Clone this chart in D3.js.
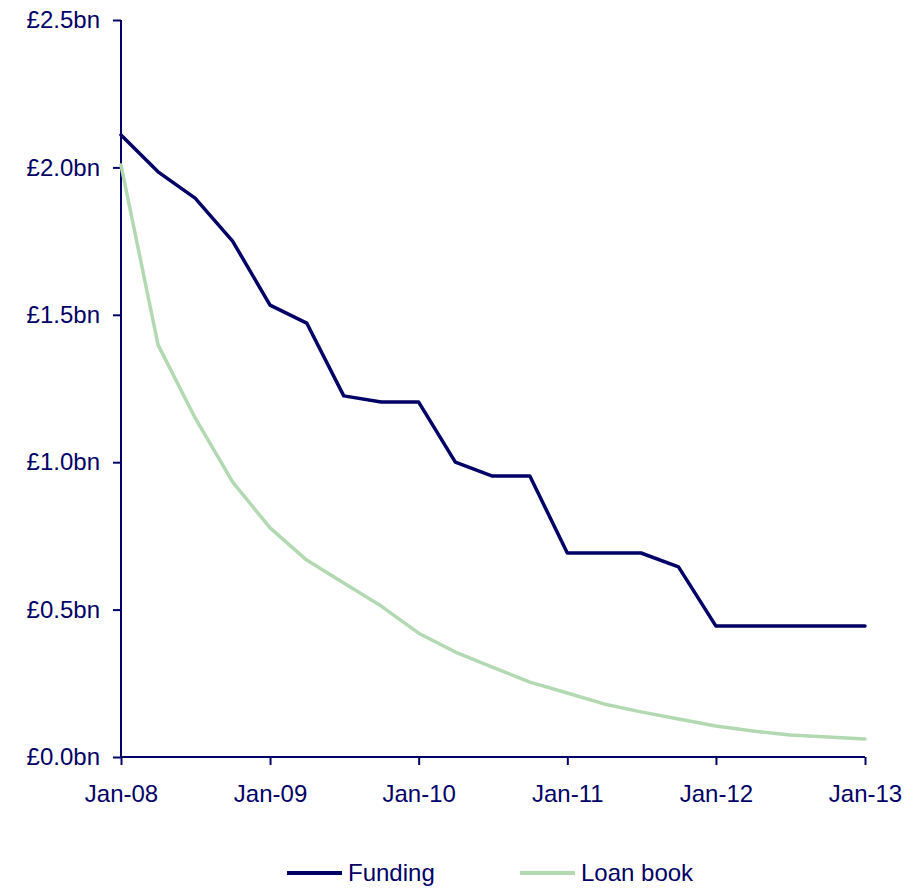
<!DOCTYPE html>
<html>
<head>
<meta charset="utf-8">
<script src="https://cdn.jsdelivr.net/npm/d3@7"></script>
<style>
  html, body { margin: 0; padding: 0; background: #fff; }
  svg { display: block; }
  text { font-family: "Liberation Sans", Arial, sans-serif; fill: #000066; }
</style>
</head>
<body>
<svg id="chart" width="921" height="888"></svg>
<script>
// Quarterly observations, Jan-08 to Jan-13 (£bn)
const quarters = d3.range(0, 21).map(i => new Date(2008, i * 3, 1));
const funding = [2.11, 1.985, 1.896, 1.75, 1.533, 1.472, 1.225, 1.204, 1.204, 1.0,
                 0.953, 0.953, 0.692, 0.692, 0.692, 0.645, 0.444, 0.444, 0.444, 0.444, 0.444];
const loanBook = [2.008, 1.398, 1.15, 0.933, 0.777, 0.668, 0.59, 0.512, 0.42, 0.356,
                  0.305, 0.254, 0.217, 0.18, 0.153, 0.129, 0.105, 0.088, 0.075, 0.068, 0.061];
const yTicks = [0, 0.5, 1.0, 1.5, 2.0, 2.5];
const xTickDates = d3.range(2008, 2014).map(y => new Date(y, 0, 1));
const seriesNames = ["Funding", "Loan book"];

const navy = "#000066";
const green = "#b3d9b3";
const fontSize = "24px";

const svg = d3.select("#chart");
const margin = { left: 121, right: 56, top: 20, bottom: 131 };
const W = 921, H = 888;

const x = d3.scaleTime()
  .domain([quarters[0], quarters[quarters.length - 1]])
  .range([margin.left, W - margin.right]);
const y = d3.scaleLinear()
  .domain([0, 2.5])
  .range([H - margin.bottom, margin.top]);

// Y axis
const yAxis = svg.append("g")
  .attr("transform", `translate(${margin.left},0)`)
  .call(d3.axisLeft(y).tickValues(yTicks).tickSize(8).tickPadding(13)
    .tickFormat(d => "£" + d.toFixed(1) + "bn"));
yAxis.select(".domain").attr("stroke", navy).attr("stroke-width", 2).attr("d", `M0,${y(2.5)}V${y(0)}`);
yAxis.selectAll(".tick line").attr("stroke", navy).attr("stroke-width", 2);
yAxis.selectAll(".tick text").attr("fill", navy).style("font-size", fontSize);

// X axis
const xAxis = svg.append("g")
  .attr("transform", `translate(0,${y(0)})`)
  .call(d3.axisBottom(x).tickValues(xTickDates).tickSize(8).tickPadding(20)
    .tickFormat(d3.timeFormat("%b-%y")));
xAxis.select(".domain").attr("stroke", navy).attr("stroke-width", 2).attr("d", `M${x.range()[0]},0H${x.range()[1]}`);
xAxis.selectAll(".tick line").attr("stroke", navy).attr("stroke-width", 2);
xAxis.selectAll(".tick text").attr("fill", navy).style("font-size", fontSize);

// Series lines
const line = d3.line().x((d, i) => x(quarters[i])).y(d => y(d));

svg.append("path")
  .datum(loanBook)
  .attr("fill", "none")
  .attr("stroke", green)
  .attr("stroke-width", 3.5)
  .attr("stroke-linejoin", "round")
  .attr("stroke-linecap", "round")
  .attr("d", line);

svg.append("path")
  .datum(funding)
  .attr("fill", "none")
  .attr("stroke", navy)
  .attr("stroke-width", 3.5)
  .attr("stroke-linejoin", "round")
  .attr("stroke-linecap", "round")
  .attr("d", line);

// Legend
const legend = svg.append("g").attr("transform", "translate(0,873)");
const items = [
  { name: seriesNames[0], color: navy, x0: 287 },
  { name: seriesNames[1], color: green, x0: 520 }
];
items.forEach(it => {
  legend.append("line")
    .attr("x1", it.x0).attr("x2", it.x0 + 55)
    .attr("y1", 0).attr("y2", 0)
    .attr("stroke", it.color).attr("stroke-width", 4);
  legend.append("text")
    .attr("x", it.x0 + 61).attr("y", 0)
    .attr("dy", "0.35em")
    .style("font-size", fontSize)
    .text(it.name);
});
</script>
</body>
</html>
